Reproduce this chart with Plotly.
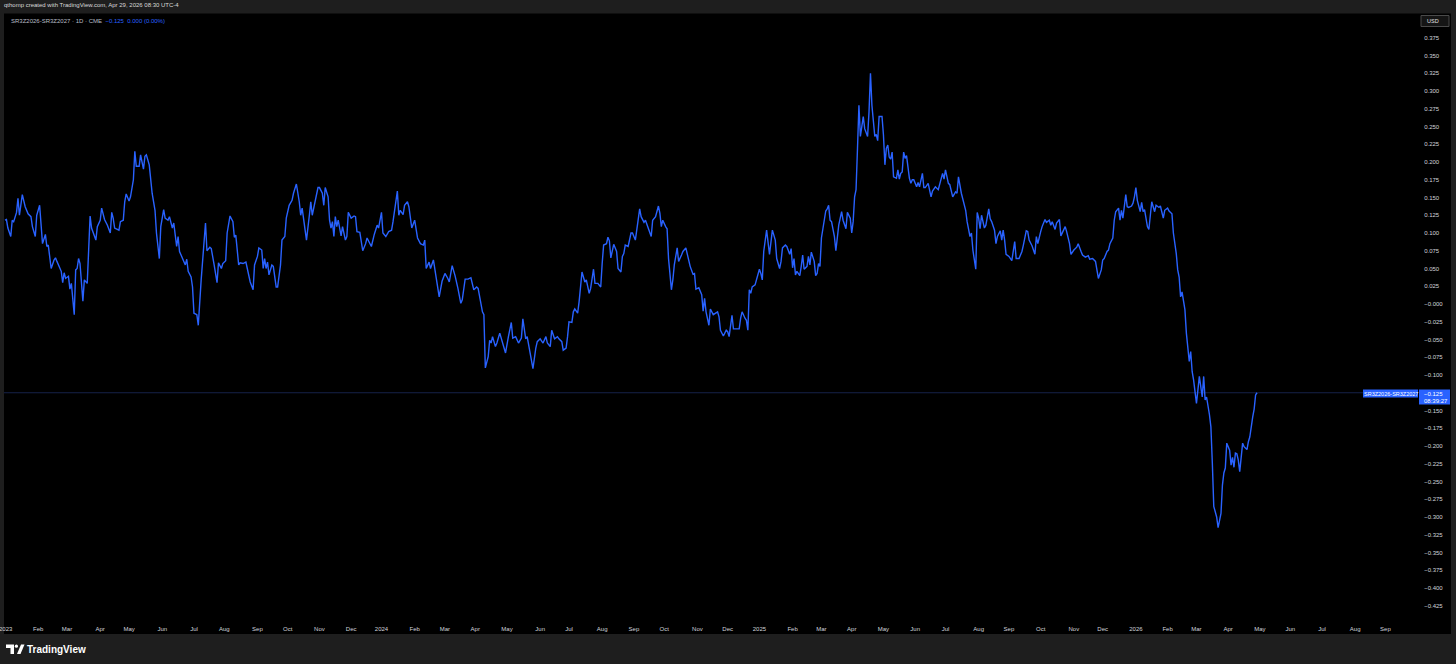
import pandas as pd
import plotly.graph_objects as go

# ---------------- data ----------------
SYMBOL = "SR3Z2026-SR3Z2027"
FIRST_SESSION = "2022-12-30"   # session offset 0 (weekday count)
LAST_VALUE = -0.125
LAST_TIME = "08:39:27"

session_2023 = [0, 1, 2, 4, 5, 6, 8, 9, 10, 12, 14, 16, 18, 19, 21, 22, 24, 25, 26, 28, 29, 30, 32, 34, 35, 36, 38, 39, 40, 41, 42, 44, 45, 46, 48, 49, 50, 51, 52, 54, 55, 57, 58, 59, 60, 61, 63, 64, 66, 67, 69, 71, 73, 74, 75, 76, 79, 80, 82, 83, 84, 86, 87, 89, 90, 91, 93, 94, 96, 97, 98, 100, 101, 102, 104, 105, 107, 108, 110, 111, 113, 114, 116, 117, 119, 120, 121, 123, 125, 126, 127, 129, 130, 131, 133, 134, 135, 136, 139, 140, 142, 143, 145, 147, 148, 150, 151, 153, 154, 156, 158, 159, 160, 162, 163, 165, 167, 169, 170, 172, 173, 175, 176, 178, 179, 180, 181, 182, 183, 185, 186, 188, 189, 191, 192, 194, 195, 197, 199, 200, 202, 204, 205, 206, 207, 208, 209, 211, 212, 213, 215, 217, 218, 220, 221, 222, 224, 225, 226, 227, 228, 229, 230, 231, 233, 234, 236, 237, 238, 240, 242, 243, 244, 246, 248, 250, 251, 254, 256, 258, 259, 261]
value_2023 = [0.118, 0.119, 0.107, 0.095, 0.118, 0.116, 0.129, 0.149, 0.125, 0.154, 0.137, 0.127, 0.123, 0.109, 0.095, 0.125, 0.139, 0.109, 0.085, 0.098, 0.081, 0.083, 0.050, 0.062, 0.065, 0.060, 0.050, 0.046, 0.030, 0.044, 0.036, 0.039, 0.021, 0.029, -0.015, 0.048, 0.050, 0.064, 0.057, 0.004, 0.034, 0.029, 0.076, 0.124, 0.107, 0.102, 0.090, 0.109, 0.118, 0.135, 0.119, 0.111, 0.100, 0.129, 0.121, 0.107, 0.104, 0.116, 0.118, 0.144, 0.155, 0.145, 0.151, 0.175, 0.215, 0.194, 0.194, 0.210, 0.190, 0.208, 0.210, 0.196, 0.179, 0.156, 0.132, 0.100, 0.064, 0.109, 0.133, 0.121, 0.118, 0.123, 0.107, 0.114, 0.081, 0.095, 0.074, 0.064, 0.055, 0.063, 0.046, 0.038, 0.024, -0.013, -0.015, -0.030, 0.010, 0.034, 0.114, 0.075, 0.080, 0.078, 0.055, 0.030, 0.058, 0.050, 0.057, 0.061, 0.100, 0.124, 0.116, 0.094, 0.097, 0.055, 0.058, 0.057, 0.059, 0.041, 0.031, 0.020, 0.055, 0.067, 0.079, 0.076, 0.050, 0.064, 0.050, 0.059, 0.041, 0.055, 0.053, 0.024, 0.024, 0.055, 0.090, 0.095, 0.121, 0.139, 0.146, 0.156, 0.169, 0.144, 0.125, 0.135, 0.121, 0.109, 0.090, 0.125, 0.144, 0.125, 0.144, 0.164, 0.164, 0.156, 0.139, 0.164, 0.151, 0.118, 0.107, 0.116, 0.095, 0.123, 0.109, 0.118, 0.096, 0.109, 0.090, 0.095, 0.129, 0.121, 0.124, 0.123, 0.102, 0.101, 0.075, 0.085, 0.093, 0.081, 0.098, 0.111, 0.107, 0.129]

session_2024 = [262, 264, 266, 268, 269, 272, 273, 274, 276, 277, 279, 280, 282, 284, 286, 287, 288, 290, 291, 292, 294, 295, 297, 299, 301, 303, 305, 307, 308, 310, 312, 314, 316, 317, 319, 321, 323, 325, 327, 328, 331, 332, 333, 335, 336, 337, 338, 340, 341, 343, 345, 347, 349, 351, 352, 354, 356, 358, 359, 361, 362, 364, 366, 368, 369, 371, 373, 375, 376, 378, 379, 381, 383, 384, 386, 387, 389, 390, 391, 393, 394, 395, 397, 398, 399, 400, 402, 403, 405, 406, 408, 409, 411, 413, 414, 415, 417, 418, 419, 420, 422, 424, 425, 427, 428, 429, 430, 432, 434, 435, 437, 438, 440, 441, 443, 444, 446, 448, 449, 451, 453, 454, 455, 456, 458, 459, 460, 462, 463, 464, 466, 467, 469, 470, 472, 473, 475, 477, 478, 479, 481, 483, 484, 485, 486, 488, 489, 491, 494, 495, 496, 498, 500, 501, 502, 504, 505, 507, 509, 510, 511, 513, 514, 515, 516, 517, 518, 520, 521, 523, 524]
value_2024 = [0.100, 0.095, 0.102, 0.104, 0.116, 0.159, 0.125, 0.132, 0.126, 0.139, 0.144, 0.137, 0.107, 0.118, 0.093, 0.088, 0.085, 0.083, 0.090, 0.050, 0.059, 0.050, 0.062, 0.036, 0.010, 0.032, 0.043, 0.036, 0.031, 0.054, 0.040, 0.022, 0.001, 0.006, 0.035, 0.035, 0.037, 0.020, 0.024, 0.022, -0.011, -0.015, -0.090, -0.074, -0.051, -0.055, -0.046, -0.060, -0.055, -0.041, -0.057, -0.069, -0.046, -0.026, -0.048, -0.046, -0.055, -0.048, -0.021, -0.049, -0.046, -0.067, -0.091, -0.062, -0.053, -0.049, -0.055, -0.046, -0.055, -0.060, -0.037, -0.049, -0.046, -0.049, -0.053, -0.065, -0.062, -0.046, -0.025, -0.026, -0.011, -0.007, -0.013, 0.003, 0.031, 0.045, 0.031, 0.034, 0.015, 0.022, 0.049, 0.029, 0.029, 0.024, 0.057, 0.083, 0.085, 0.094, 0.089, 0.065, 0.084, 0.074, 0.050, 0.045, 0.067, 0.071, 0.083, 0.081, 0.100, 0.100, 0.090, 0.104, 0.134, 0.123, 0.115, 0.118, 0.107, 0.095, 0.118, 0.123, 0.138, 0.128, 0.109, 0.118, 0.109, 0.106, 0.064, 0.020, 0.034, 0.055, 0.079, 0.060, 0.069, 0.074, 0.079, 0.069, 0.053, 0.042, 0.043, 0.021, 0.023, 0.013, -0.010, 0.008, -0.011, -0.030, -0.007, -0.015, -0.011, -0.018, -0.037, -0.045, -0.037, -0.039, -0.046, -0.016, -0.035, -0.035, -0.035, -0.020, -0.011, -0.020, -0.023, -0.037, 0.020, 0.015, 0.024, 0.027, 0.034, 0.049, 0.043]

session_2025 = [525, 526, 528, 530, 531, 532, 534, 535, 537, 538, 539, 541, 542, 544, 545, 546, 547, 548, 549, 551, 552, 553, 554, 556, 557, 558, 559, 561, 562, 563, 564, 565, 566, 568, 569, 570, 571, 572, 573, 575, 576, 578, 580, 581, 583, 584, 586, 587, 588, 589, 590, 591, 592, 593, 594, 595, 596, 597, 598, 599, 600, 601, 603, 604, 605, 606, 608, 609, 610, 611, 612, 613, 614, 615, 616, 618, 619, 620, 621, 622, 623, 624, 625, 627, 628, 629, 630, 632, 633, 634, 636, 637, 638, 640, 642, 643, 645, 647, 649, 650, 651, 652, 654, 655, 657, 659, 660, 661, 663, 664, 666, 667, 669, 670, 671, 673, 674, 675, 676, 677, 679, 680, 682, 683, 684, 686, 687, 688, 690, 691, 692, 693, 694, 696, 698, 700, 701, 703, 705, 706, 708, 709, 710, 712, 714, 715, 716, 718, 719, 721, 722, 724, 725, 726, 728, 729, 731, 732, 734, 735, 736, 738, 739, 741, 743, 744, 746, 747, 749, 751, 752, 754, 756, 757, 758, 760, 761, 762, 764, 765, 766, 768, 769, 770, 772, 773, 774, 775, 777, 778, 779, 781, 782, 783, 784, 785]
value_2025 = [0.034, 0.074, 0.104, 0.070, 0.090, 0.104, 0.090, 0.064, 0.050, 0.060, 0.079, 0.083, 0.081, 0.070, 0.078, 0.051, 0.064, 0.041, 0.046, 0.040, 0.053, 0.069, 0.049, 0.053, 0.067, 0.055, 0.073, 0.060, 0.040, 0.043, 0.057, 0.053, 0.093, 0.121, 0.131, 0.134, 0.139, 0.118, 0.116, 0.095, 0.075, 0.111, 0.130, 0.118, 0.106, 0.129, 0.121, 0.100, 0.116, 0.151, 0.161, 0.219, 0.280, 0.236, 0.253, 0.264, 0.247, 0.240, 0.236, 0.271, 0.325, 0.280, 0.236, 0.239, 0.230, 0.264, 0.264, 0.238, 0.196, 0.219, 0.224, 0.207, 0.204, 0.214, 0.179, 0.177, 0.189, 0.176, 0.184, 0.186, 0.214, 0.205, 0.209, 0.177, 0.170, 0.175, 0.175, 0.165, 0.171, 0.165, 0.184, 0.164, 0.164, 0.170, 0.151, 0.159, 0.165, 0.161, 0.177, 0.184, 0.176, 0.189, 0.170, 0.168, 0.151, 0.158, 0.156, 0.179, 0.156, 0.149, 0.132, 0.116, 0.095, 0.100, 0.076, 0.049, 0.129, 0.121, 0.106, 0.125, 0.107, 0.111, 0.134, 0.120, 0.116, 0.104, 0.085, 0.095, 0.103, 0.090, 0.104, 0.090, 0.070, 0.067, 0.061, 0.088, 0.064, 0.064, 0.074, 0.083, 0.103, 0.102, 0.090, 0.082, 0.070, 0.095, 0.085, 0.102, 0.109, 0.119, 0.115, 0.118, 0.111, 0.116, 0.105, 0.114, 0.119, 0.096, 0.104, 0.109, 0.102, 0.085, 0.070, 0.076, 0.080, 0.085, 0.074, 0.069, 0.066, 0.068, 0.063, 0.064, 0.060, 0.046, 0.036, 0.048, 0.062, 0.064, 0.074, 0.076, 0.085, 0.093, 0.118, 0.130, 0.135, 0.118, 0.132, 0.121, 0.154, 0.137, 0.136, 0.138, 0.142, 0.151, 0.164, 0.146]

session_2026 = [787, 788, 789, 790, 792, 793, 794, 795, 797, 798, 800, 801, 803, 804, 806, 807, 809, 810, 812, 813, 814, 815, 816, 818, 819, 820, 821, 822, 823, 824, 826, 827, 828, 830, 831, 832, 833, 835, 836, 837, 838, 840, 841, 843, 844, 845, 846, 847, 849, 850, 851, 852, 853, 854, 855, 856, 858, 859, 861, 862, 863, 865, 866, 867, 868]
value_2026 = [0.130, 0.143, 0.130, 0.133, 0.109, 0.105, 0.121, 0.144, 0.130, 0.139, 0.136, 0.138, 0.121, 0.132, 0.135, 0.131, 0.127, 0.100, 0.071, 0.048, 0.038, 0.010, 0.017, -0.008, -0.041, -0.067, -0.081, -0.067, -0.095, -0.107, -0.140, -0.121, -0.102, -0.131, -0.102, -0.135, -0.131, -0.156, -0.173, -0.224, -0.285, -0.300, -0.315, -0.295, -0.255, -0.238, -0.231, -0.196, -0.206, -0.227, -0.216, -0.230, -0.210, -0.211, -0.220, -0.236, -0.196, -0.201, -0.205, -0.194, -0.187, -0.159, -0.148, -0.128, -0.125]

Y_TICK_LABELS = ["0.375", "0.350", "0.325", "0.300", "0.275", "0.250", "0.225", "0.200",
                 "0.175", "0.150", "0.125", "0.100", "0.075", "0.050", "0.025", "−0.000",
                 "−0.025", "−0.050", "−0.075", "−0.100", "−0.150", "−0.175",
                 "−0.200", "−0.225", "−0.250", "−0.275", "−0.300", "−0.325", "−0.350",
                 "−0.375", "−0.400", "−0.425"]
MONTH_NAMES = ["Jan", "Feb", "Mar", "Apr", "May", "Jun", "Jul", "Aug", "Sep", "Oct", "Nov", "Dec"]
TICK_MONTHS_FROM = "2023-01-01"
TICK_MONTHS_TO = "2026-09-01"

# ---------------- build ----------------
sessions = session_2023 + session_2024 + session_2025 + session_2026
values = value_2023 + value_2024 + value_2025 + value_2026
all_days = pd.bdate_range(FIRST_SESSION, periods=max(sessions) + 1)
dates = all_days[sessions]

months = pd.date_range(TICK_MONTHS_FROM, TICK_MONTHS_TO, freq="MS")
tick_vals = [pd.offsets.BDay().rollforward(m) for m in months]
tick_text = [str(m.year) if m.month == 1 else MONTH_NAMES[m.month - 1] for m in months]
y_vals = [float(t.replace("−", "-")) for t in Y_TICK_LABELS]

W, H = 1456, 664
L, R, T, B = 4, 38, 13, 44
PW, PH = W - L - R, H - T - B
FONT = "Liberation Sans"
BLUE = "#2962ff"
GRAY_BG = "#1e1e1e"
AXIS_TEXT = "#d1d4dc"


def px(x):
    return (x - L) / PW


def py(y):
    return (H - B - y) / PH


def val_at(y):  # value for a vertical pixel of the pane
    return (304 - y) / 710


fig = go.Figure()
fig.add_trace(go.Scatter(x=dates, y=values, mode="lines",
                         line=dict(color=BLUE, width=1.4), hoverinfo="skip",
                         showlegend=False))

shapes = [
    # black chart pane
    dict(type="rect", xref="paper", yref="paper", x0=px(4), x1=px(1451), y0=py(634), y1=py(13.5),
         fillcolor="#000000", line=dict(width=0), layer="below"),
    # last-price line
    dict(type="line", xref="paper", yref="y", x0=0, x1=1, y0=LAST_VALUE, y1=LAST_VALUE,
         line=dict(color="#16224a", width=1), layer="below"),
    # price label boxes
    dict(type="rect", xref="paper", yref="paper", x0=px(1363), x1=px(1418), y0=py(397.5), y1=py(389.5),
         fillcolor=BLUE, line=dict(width=0)),
    dict(type="rect", xref="paper", yref="paper", x0=px(1419), x1=px(1450), y0=py(404.5), y1=py(389.5),
         fillcolor=BLUE, line=dict(width=0)),
    # USD box
    dict(type="rect", xref="paper", yref="paper", x0=px(1421), x1=px(1449), y0=py(26.5), y1=py(15.5),
         fillcolor="#151515", line=dict(color="#4a4a4a", width=1)),
]


# TradingView logo (bottom-left)
def path(points):
    return "M" + " L".join(f"{px(a):.6f},{py(b):.6f}" for a, b in points) + " Z"


shapes.append(dict(type="path", xref="paper", yref="paper",
                   path=path([(6, 644.5), (14, 644.5), (14, 654), (10.5, 654), (10.5, 648), (6, 648)]),
                   fillcolor="#ffffff", line=dict(width=0)))
shapes.append(dict(type="circle", xref="paper", yref="paper", x0=px(14.8), x1=px(18), y0=py(647.8), y1=py(644.6),
                   fillcolor="#ffffff", line=dict(width=0)))
shapes.append(dict(type="path", xref="paper", yref="paper",
                   path=path([(17, 654), (21, 644.5), (24.5, 644.5), (20.5, 654)]),
                   fillcolor="#ffffff", line=dict(width=0)))

annotations = [
    dict(xref="paper", yref="paper", x=px(1.5), y=py(5.2), xanchor="left", yanchor="middle",
         text="qthomp created with TradingView.com, Apr 29, 2026 08:30 UTC-4", showarrow=False,
         font=dict(family=FONT, size=6, color="#d9d9d9")),
    dict(xref="paper", yref="paper", x=px(8.5), y=py(20.5), xanchor="left", yanchor="middle",
         text=(f"{SYMBOL} · 1D · CME  <span style='color:{BLUE}'>−0.125  0.000 (0.00%)</span>"),
         showarrow=False, font=dict(family=FONT, size=6, color="#b8bcc6")),
    dict(xref="paper", yref="paper", x=px(1390.5), y=py(393.6), xanchor="center", yanchor="middle",
         text=SYMBOL, showarrow=False, font=dict(family=FONT, size=5.5, color="#ffffff")),
    dict(xref="paper", yref="paper", x=px(1422), y=py(393.6), xanchor="left", yanchor="middle",
         text=f"−{abs(LAST_VALUE):.3f}", showarrow=False, font=dict(family=FONT, size=6, color="#ffffff")),
    dict(xref="paper", yref="paper", x=px(1421.5), y=py(400.8), xanchor="left", yanchor="middle",
         text=LAST_TIME, showarrow=False, font=dict(family=FONT, size=6, color="#ffffff")),
    dict(xref="paper", yref="paper", x=px(1425), y=py(21), xanchor="left", yanchor="middle",
         text="USD", showarrow=False, font=dict(family=FONT, size=5.5, color="#e0e0e0")),
    dict(xref="paper", yref="paper", x=px(24.5), y=py(649.5), xanchor="left", yanchor="middle",
         text="<b>TradingView</b>", showarrow=False, font=dict(family=FONT, size=10, color="#ffffff")),
    # first year label sits on the left edge (partly cut off in the original)
    dict(xref="x", yref="paper", x=tick_vals[0], y=py(628.5), xanchor="center", yanchor="middle",
         text=tick_text[0], showarrow=False, font=dict(family=FONT, size=6, color=AXIS_TEXT)),
]

fig.update_layout(
    width=W, height=H,
    margin=dict(l=L, r=R, t=T, b=B, pad=0),
    paper_bgcolor=GRAY_BG, plot_bgcolor="rgba(0,0,0,0)",
    shapes=shapes, annotations=annotations,
    showlegend=False,
    xaxis=dict(
        type="date",
        range=["2022-12-29 07:22", "2026-10-01 14:00"],
        rangebreaks=[dict(bounds=["sat", "mon"])],
        tickmode="array", tickvals=tick_vals[1:], ticktext=tick_text[1:],
        showgrid=False, zeroline=False, showline=False,
        ticks="outside", ticklen=3, tickcolor="rgba(0,0,0,0)",
        tickfont=dict(family=FONT, size=6, color=AXIS_TEXT),
        fixedrange=True,
    ),
    yaxis=dict(
        side="right",
        range=[val_at(620), val_at(13)],
        tickmode="array", tickvals=y_vals, ticktext=Y_TICK_LABELS,
        showgrid=False, zeroline=False, showline=False,
        ticks="outside", ticklen=4, tickcolor="rgba(0,0,0,0)",
        tickfont=dict(family=FONT, size=6, color=AXIS_TEXT),
        fixedrange=True,
    ),
)

fig.write_html("out.html", config={"displayModeBar": False},
               post_script="document.body.style.margin='0';document.body.style.background='#1e1e1e';")
